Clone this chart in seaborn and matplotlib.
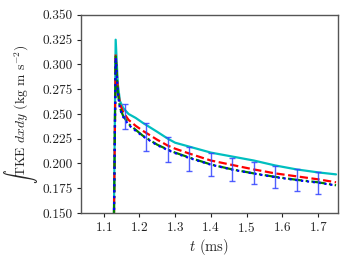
import numpy as np
import pandas as pd
import seaborn as sns
import matplotlib.pyplot as plt

sns.set_style('ticks')
plt.rcParams['font.family'] = ['cmr10', 'DejaVu Serif']
plt.rcParams['mathtext.fontset'] = 'cm'
plt.rcParams['axes.formatter.use_mathtext'] = True

# data
t = [1.125, 1.134, 1.140, 1.146, 1.155, 1.17, 1.19, 1.21, 1.25, 1.28, 1.30,
     1.34, 1.40, 1.46, 1.52, 1.58, 1.64, 1.70, 1.75]
tke_cyan = [0.0, 0.325, 0.280, 0.263, 0.256, 0.250, 0.246, 0.241, 0.232, 0.225,
            0.221, 0.217, 0.211, 0.207, 0.203, 0.198, 0.194, 0.191, 0.189]
tke_red = [0.0, 0.310, 0.275, 0.260, 0.252, 0.244, 0.238, 0.233, 0.224, 0.218,
           0.215, 0.210, 0.203, 0.1985, 0.194, 0.190, 0.187, 0.184, 0.181]
tke_green = [0.0, 0.308, 0.272, 0.256, 0.248, 0.240, 0.234, 0.228, 0.219, 0.214,
             0.211, 0.206, 0.199, 0.194, 0.190, 0.1865, 0.1835, 0.181, 0.178]
tke_blue = [0.0, 0.307, 0.271, 0.255, 0.247, 0.239, 0.233, 0.2275, 0.2185, 0.2135,
            0.2105, 0.2055, 0.1988, 0.1938, 0.1898, 0.1862, 0.1832, 0.1806, 0.1778]

t_err = [1.16, 1.22, 1.28, 1.34, 1.40, 1.46, 1.52, 1.58, 1.64, 1.70]
err_lo = [0.235, 0.2126, 0.2015, 0.1927, 0.1874, 0.1827, 0.179, 0.175, 0.1725, 0.1695]
err_hi = [0.260, 0.241, 0.227, 0.2167, 0.2103, 0.2059, 0.2018, 0.1978, 0.1944, 0.1914]

df = pd.DataFrame({'t': t, 'cyan': tke_cyan, 'red': tke_red,
                   'green': tke_green, 'blue': tke_blue})

fig = plt.figure(figsize=(3.49, 2.62), dpi=100)
ax = fig.add_axes([0.232, 0.187, 0.736, 0.756])

sns.lineplot(data=df, x='t', y='cyan', color='c', lw=1.6, ax=ax)
sns.lineplot(data=df, x='t', y='red', color='r', lw=1.6, ls='--', ax=ax)
sns.lineplot(data=df, x='t', y='green', color='g', lw=1.6, ls='-.', ax=ax)
sns.lineplot(data=df, x='t', y='blue', color='b', lw=1.6, ls=':', ax=ax)

lo = np.array(err_lo)
hi = np.array(err_hi)
ax.errorbar(t_err, (lo + hi) / 2, yerr=(hi - lo) / 2, fmt='none',
            ecolor='#3344ff', elinewidth=1, capsize=2.5, alpha=0.85)

ax.set_xlim(1.037, 1.755)
ax.set_ylim(0.150, 0.350)
ax.set_xticks([1.1, 1.2, 1.3, 1.4, 1.5, 1.6, 1.7])
yt = np.arange(0.150, 0.351, 0.025)
ax.set_yticks(yt)
ax.set_yticklabels([f'{v:.3f}' for v in yt])
ax.tick_params(labelsize=9.6, length=3, width=0.8, colors='#222222', pad=3)
for s in ax.spines.values():
    s.set_color('#555555')
    s.set_linewidth(1)

ax.set_xlabel(r'$t$ (ms)', fontsize=10.5, labelpad=1)
ax.set_ylabel(r'$\int$TKE $dxdy$ (kg m s$^{-2}$)', fontsize=9.8, labelpad=2)

plt.savefig('out.png', dpi=100)
